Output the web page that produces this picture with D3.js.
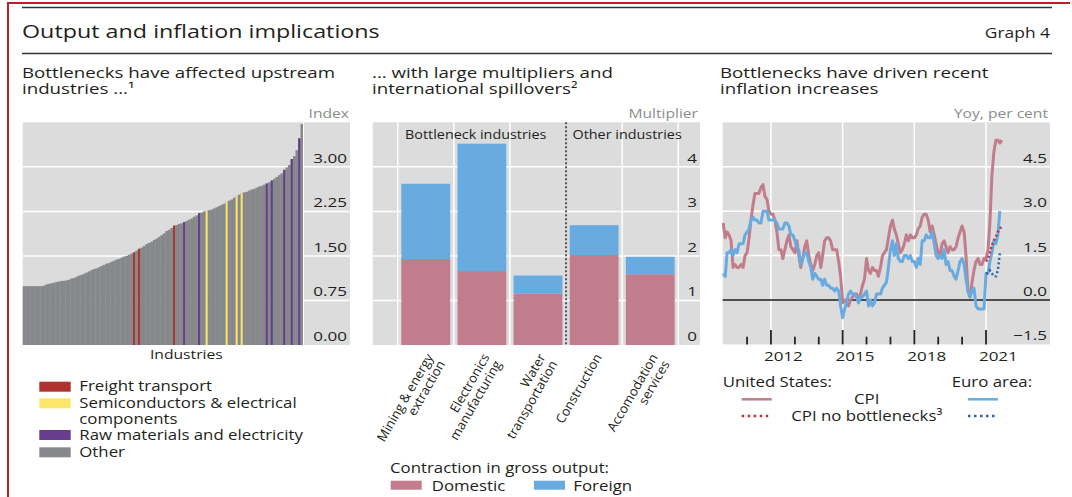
<!DOCTYPE html>
<html><head><meta charset="utf-8">
<script src="https://cdn.jsdelivr.net/npm/d3@7"></script>
<style>
body{margin:0;background:#fff;}
svg{display:block;font-family:"Open Sans","Noto Sans",sans-serif;}
</style></head><body>
<svg id="c" width="1072" height="497"></svg>
<script>
// ---------- DATA ----------
// Panel 1: upstreamness index of industries (sorted)
const industryIndex = [
 0.99,0.99,0.99,0.99,0.99,0.99,0.99,0.99,1.00,
 1.02,1.03,1.04,1.05,1.06,1.07,1.08,1.08,1.09,
 1.10,1.12,1.13,1.15,1.17,1.18,1.20,1.22,1.24,1.26,
 1.28,1.29,1.31,1.33,1.35,1.37,1.38,1.40,1.42,1.44,
 1.45,1.47,1.49,1.50,1.52,1.54,1.56,1.59,1.62,1.64,
 1.67,1.70,1.72,1.74,1.77,1.79,1.82,1.85,1.88,1.92,
 1.94,1.97,2.01,2.02,2.04,2.05,2.07,2.09,2.11,2.13,
 2.16,2.18,2.22,2.23,2.25,2.26,2.27,2.28,2.30,2.32,
 2.34,2.36,2.38,2.41,2.43,2.45,2.48,2.51,2.53,2.55,
 2.57,2.58,2.60,2.62,2.63,2.65,2.67,2.68,2.70,2.72,
 2.74,2.77,2.80,2.83,2.86,2.89,2.95,2.99,3.03,3.13,
 3.18,3.28,3.48,3.72
];
const freightIdx = [44, 46, 60];
const semiIdx = [73, 81, 85, 87];
const rawIdx = [64, 70, 97, 99, 104, 107, 110];
const industryTicks = [0, 0.75, 1.5, 2.25, 3];
const industryGroups = ["Freight transport", "Semiconductors & electrical|components", "Raw materials and electricity", "Other"];

// Panel 2: multipliers
const multCategories = ["Mining & energy|extraction", "Electronics|manufacturing", "Water|transportation", "Construction", "Accomodation|services"];
const domesticMult = [1.93, 1.66, 1.15, 2.02, 1.59];
const foreignMult = [1.69, 2.86, 0.41, 0.67, 0.39];
const multTicks = [0, 1, 2, 3, 4];

// Panel 3: inflation, monthly from Jan 2010
const usCPI = [
 2.6,2.1,2.3,2.2,2.0,1.1,1.2,1.1,1.1,1.2,1.1,1.5,
 1.6,2.1,2.7,3.2,3.6,3.6,3.6,3.8,3.9,3.5,3.4,3.0,
 2.9,2.9,2.7,2.3,1.7,1.7,1.4,1.7,2.0,2.2,1.8,1.7,
 1.6,2.0,1.5,1.1,1.4,1.8,2.0,1.5,1.2,1.0,1.2,1.5,
 1.6,1.1,1.5,2.0,2.1,2.1,2.0,1.7,1.7,1.7,1.3,0.8,
 -0.1,0.0,-0.1,-0.2,0.0,0.1,0.2,0.2,0.0,0.2,0.5,0.7,
 1.4,1.0,0.9,1.1,1.0,1.0,0.8,1.1,1.5,1.6,1.7,2.1,
 2.5,2.7,2.4,2.2,1.9,1.6,1.7,1.9,2.2,2.0,2.2,2.1,
 2.1,2.2,2.4,2.5,2.8,2.9,2.9,2.7,2.3,2.5,2.2,1.9,
 1.6,1.5,1.9,2.0,1.8,1.6,1.8,1.7,1.7,1.8,2.1,2.3,
 2.5,2.3,1.5,0.3,0.1,0.6,1.0,1.3,1.4,1.2,1.2,1.4,
 1.4,1.7,2.6,4.2,5.0,5.4,5.4,5.3,5.4
];
const euroCPI = [
 0.9,0.8,1.6,1.6,1.7,1.5,1.7,1.6,1.9,1.9,1.9,2.2,
 2.3,2.4,2.7,2.8,2.7,2.7,2.6,2.6,3.0,3.0,3.0,2.7,
 2.7,2.7,2.7,2.6,2.4,2.4,2.4,2.6,2.6,2.5,2.2,2.2,
 2.0,1.8,1.7,1.2,1.4,1.6,1.6,1.3,1.1,0.7,0.9,0.8,
 0.7,0.7,0.5,0.7,0.5,0.5,0.4,0.4,0.3,0.4,0.3,-0.2,
 -0.6,-0.3,-0.1,0.2,0.3,0.2,0.2,0.1,-0.1,0.1,0.1,0.2,
 0.3,-0.2,0.0,-0.2,-0.1,0.2,0.2,0.2,0.4,0.5,0.6,1.1,
 1.7,2.0,1.5,1.9,1.4,1.3,1.3,1.5,1.5,1.4,1.5,1.3,
 1.3,1.1,1.4,1.2,2.0,2.0,2.2,2.1,2.1,2.3,1.9,1.5,
 1.4,1.5,1.4,1.7,1.2,1.3,1.0,1.0,0.8,0.7,1.0,1.3,
 1.4,1.2,0.7,0.3,0.1,0.3,0.4,-0.2,-0.3,-0.3,-0.3,-0.3,
 0.9,0.9,1.3,1.6,2.0,1.9,2.2,3.0
];
const usNoBottleneck = [1.3,1.4,1.6,1.85,2.0,2.15,2.3,2.4,2.5];    // from Jan 2021
const euroNoBottleneck = [0.9,0.9,1.0,0.9,0.8,0.8,1.0,1.6];        // from Jan 2021
const inflTicks = [-1.5, 0, 1.5, 3, 4.5];
const yearLabels = [2012, 2015, 2018, 2021];

// ---------- STYLE ----------
const C = {
  bg: "#dcdcdc", grid: "#ffffff", text: "#231f20", unit: "#8c8c8c",
  other: "#86888b", freight: "#b0322f", semi: "#fbe56b", raw: "#673d8e",
  dom: "#c27d8c", frn: "#68abe0", usNB: "#c0333a", euNB: "#2f62b0",
  frame: "#b8202a"
};
const SX = {title:1.26, graph:1.2, sub:1.29, legend:1.16, unit:1.25, tick:1.26, inner:1.15};

const svg = d3.select("#c");
function txt(g, x, y, s, size, sx, anchor, fill){
  return g.append("text").attr("transform",`translate(${x},${y}) scale(${sx},1)`)
    .attr("text-anchor",anchor||"start").attr("font-size",size).attr("fill",fill||C.text).text(s);
}

// frame & header
svg.append("line").attr("x1",8).attr("x2",1070).attr("y1",3).attr("y2",3).attr("stroke",C.frame).attr("stroke-width",2);
svg.append("line").attr("x1",8).attr("x2",8).attr("y1",2).attr("y2",497).attr("stroke",C.frame).attr("stroke-width",2);
svg.append("line").attr("x1",22).attr("x2",1052).attr("y1",7.5).attr("y2",7.5).attr("stroke","#333").attr("stroke-width",1.3);
svg.append("line").attr("x1",22).attr("x2",1052).attr("y1",53.5).attr("y2",53.5).attr("stroke","#333").attr("stroke-width",1.3);
txt(svg, 22, 37.5, "Output and inflation implications", 18.5, SX.title);
txt(svg, 1050, 37.5, "Graph 4", 14.5, SX.graph, "end");

function subtitle(x, lines){
  lines.forEach((l,i)=>txt(svg, x, 78+i*15.5, l, 14.5, SX.sub));
}
subtitle(22, ["Bottlenecks have affected upstream", "industries ...\u00B9"]);
subtitle(372, ["... with large multipliers and", "international spillovers\u00B2"]);
subtitle(720, ["Bottlenecks have driven recent", "inflation increases"]);

function unitLabel(x, t){
  txt(svg, x, 118, t, 12.5, SX.unit, "end", C.unit);
}
function yLabels(g, scale, ticks, x, fmt){
  const ax = d3.axisRight(scale).tickValues(ticks).tickSize(0).tickPadding(0).tickFormat(fmt);
  const a = g.append("g").attr("transform",`translate(${x},0)`).call(ax);
  a.select(".domain").remove();
  a.selectAll("text").attr("text-anchor","end").attr("x",0).attr("dy",0).attr("y",-4.5)
    .attr("transform",`scale(${SX.tick},1)`).attr("font-size",13.5)
    .attr("font-family",'"Open Sans","Noto Sans",sans-serif').attr("fill",C.text);
  return a;
}

// ---------- PANEL 1 ----------
{
  const g = svg.append("g");
  const L=22.7, R=303, RR=350, T=122.3, B=345;
  const y = d3.scaleLinear().domain([0,3.75]).range([B,T]);
  const x = d3.scaleBand().domain(d3.range(industryIndex.length)).range([L,R]).padding(0);
  g.append("rect").attr("x",L).attr("y",T).attr("width",RR-L).attr("height",B-T).attr("fill",C.bg);
  g.selectAll(".gl").data(industryTicks.filter(d=>d>0)).join("line")
    .attr("x1",L).attr("x2",RR).attr("y1",d=>y(d)).attr("y2",d=>y(d)).attr("stroke",C.grid).attr("stroke-width",1.5);
  g.selectAll(".bar").data(industryIndex).join("rect")
    .attr("x",(d,i)=>x(i)).attr("width",x.bandwidth()+0.4).attr("y",d=>y(d)).attr("height",d=>B-y(d)).attr("fill",C.other);
  const hl = [].concat(freightIdx.map(i=>[i,C.freight]), semiIdx.map(i=>[i,C.semi]), rawIdx.map(i=>[i,C.raw]));
  g.selectAll(".hl").data(hl).join("rect")
    .attr("x",d=>x(d[0])+x.bandwidth()/2-1).attr("width",2).attr("y",d=>y(industryIndex[d[0]])).attr("height",d=>B-y(industryIndex[d[0]])).attr("fill",d=>d[1]);
  g.append("line").attr("x1",R+0.5).attr("x2",R+0.5).attr("y1",T).attr("y2",B).attr("stroke",C.grid).attr("stroke-width",1);
  yLabels(g, y, industryTicks, 347, d3.format(".2f"));
  unitLabel(349, "Index");
  txt(g, (L+RR)/2, 359, "Industries", 13.5, SX.legend, "middle");
  // legend
  const cols = [C.freight, C.semi, C.raw, C.other];
  const rows = [381.7, 398.3, 430, 447.3];
  industryGroups.forEach((name,i)=>{
    g.append("rect").attr("x",39.3).attr("y",rows[i]).attr("width",31.4).attr("height",10).attr("fill",cols[i]);
    name.split("|").forEach((t,j)=>txt(g, 79.3, rows[i]+9.5+j*16.3, t, 14.5, SX.legend));
  });
}

// ---------- PANEL 2 ----------
{
  const g = svg.append("g");
  const L=372.7, RR=700, T=122.3, B=345;
  const y = d3.scaleLinear().domain([0,5]).range([B,T]);
  const x = d3.scaleBand().domain(multCategories).range([397.7,678.3]).paddingInner(0.13).paddingOuter(0.065);
  const step = x.step();
  g.append("rect").attr("x",L).attr("y",T).attr("width",RR-L).attr("height",B-T).attr("fill",C.bg);
  g.selectAll(".gl").data(multTicks.filter(d=>d>0)).join("line")
    .attr("x1",L).attr("x2",RR).attr("y1",d=>y(d)).attr("y2",d=>y(d)).attr("stroke",C.grid).attr("stroke-width",1.5);
  const bounds = d3.range(multCategories.length+1).filter(i=>i!==3).map(i=>397.7+i*step);
  g.selectAll(".vl").data(bounds).join("line")
    .attr("x1",d=>d).attr("x2",d=>d).attr("y1",T).attr("y2",B).attr("stroke",C.grid).attr("stroke-width",1.5);
  g.selectAll(".dom").data(multCategories).join("rect")
    .attr("x",d=>x(d)).attr("width",x.bandwidth()).attr("y",(d,i)=>y(domesticMult[i])).attr("height",(d,i)=>B-y(domesticMult[i])).attr("fill",C.dom);
  g.selectAll(".frn").data(multCategories).join("rect")
    .attr("x",d=>x(d)).attr("width",x.bandwidth()).attr("y",(d,i)=>y(domesticMult[i]+foreignMult[i])).attr("height",(d,i)=>y(domesticMult[i])-y(domesticMult[i]+foreignMult[i])).attr("fill",C.frn);
  const sep = 397.7+3*step;
  g.append("line").attr("x1",sep).attr("x2",sep).attr("y1",T).attr("y2",B).attr("stroke","#555").attr("stroke-width",2).attr("stroke-dasharray","2,2");
  txt(g, 405, 138.5, "Bottleneck industries", 12.5, SX.inner);
  txt(g, 572.5, 138.5, "Other industries", 12.5, SX.inner);
  yLabels(g, y, multTicks, 697, d3.format("d"));
  unitLabel(698, "Multiplier");
  // category labels
  multCategories.forEach(c=>{
    const cx = x(c)+x.bandwidth()/2;
    const t = g.append("text").attr("transform",`translate(${cx+8},357) rotate(-60)`).attr("text-anchor","end").attr("font-size",13).attr("fill",C.text);
    c.split("|").forEach((l,j)=>t.append("tspan").attr("x",0).attr("dy", j===0?0:"1.05em").text(l));
  });
  // legend
  txt(g, 390, 473, "Contraction in gross output:", 14.5, SX.legend);
  [["Domestic",C.dom,390.7,431.7],["Foreign",C.frn,534,573.3]].forEach(d=>{
    g.append("rect").attr("x",d[2]).attr("y",480.7).attr("width",31).attr("height",9).attr("fill",d[1]);
    txt(g, d[3], 490.5, d[0], 14.5, SX.legend);
  });
}

// ---------- PANEL 3 ----------
{
  const g = svg.append("g");
  const L=722.7, RR=1050, T=122.4, B=344.4;
  const y = d3.scaleLinear().domain([-1.5,6]).range([B,T]);
  const x = d3.scaleTime().domain([new Date(2010,0,1), new Date(2022,0,1)]).range([723.2, 1009.9]);
  const mdate = i => new Date(2010, i, 1);
  g.append("rect").attr("x",L).attr("y",T).attr("width",RR-L).attr("height",B-T).attr("fill",C.bg);
  g.selectAll(".gl").data(inflTicks.filter(d=>d>0)).join("line")
    .attr("x1",L).attr("x2",RR).attr("y1",d=>y(d)).attr("y2",d=>y(d)).attr("stroke",C.grid).attr("stroke-width",1.5);
  g.selectAll(".vl").data(yearLabels).join("line")
    .attr("x1",d=>x(new Date(d,0,1))).attr("x2",d=>x(new Date(d,0,1))).attr("y1",T).attr("y2",B).attr("stroke",C.grid).attr("stroke-width",1.5);
  g.append("line").attr("x1",L).attr("x2",RR).attr("y1",y(0)).attr("y2",y(0)).attr("stroke","#4d4d4d").attr("stroke-width",2);
  // ticks
  const years = d3.range(2011, 2022);
  g.selectAll(".tk").data(years).join("line")
    .attr("x1",d=>x(new Date(d,0,1))).attr("x2",d=>x(new Date(d,0,1)))
    .attr("y1",d=>yearLabels.includes(d)?330:336.7).attr("y2",B).attr("stroke","#222").attr("stroke-width",1.8);
  const xa = d3.axisBottom(x).tickValues(yearLabels.map(d=>new Date(d,6,1))).tickSize(0).tickPadding(0).tickFormat(d3.timeFormat("%Y"));
  const xg = g.append("g").attr("transform",`translate(0,${B})`).call(xa);
  xg.select(".domain").remove();
  xg.selectAll("text").attr("dy",0).attr("y",0).attr("transform",`translate(0,17) scale(${SX.tick},1)`)
    .attr("font-size",13.5).attr("font-family",'"Open Sans","Noto Sans",sans-serif').attr("fill",C.text);

  const line = d3.line().x((d,i)=>x(mdate(i))).y(d=>y(d));
  const line21 = d3.line().x((d,i)=>x(mdate(132+i))).y(d=>y(d));
  g.append("path").attr("d",line(usCPI)).attr("fill","none").attr("stroke",C.dom).attr("stroke-width",3).attr("stroke-linejoin","round");
  g.append("path").attr("d",line(euroCPI)).attr("fill","none").attr("stroke",C.frn).attr("stroke-width",3).attr("stroke-linejoin","round");
  g.append("path").attr("d",line21(usNoBottleneck)).attr("fill","none").attr("stroke",C.usNB).attr("stroke-width",2.5).attr("stroke-dasharray","2,2.5");
  g.append("path").attr("d",line21(euroNoBottleneck)).attr("fill","none").attr("stroke",C.euNB).attr("stroke-width",2.5).attr("stroke-dasharray","2,2.5");

  const ya = yLabels(g, y, inflTicks, 1047, d3.format(".1f"));
  ya.selectAll("text").filter(d=>d===-1.5).text("\u22121.5");
  unitLabel(1048, "Yoy, per cent");

  // legend
  txt(g, 722.7, 386.5, "United States:", 14.5, SX.legend);
  txt(g, 951.7, 386.5, "Euro area:", 14.5, SX.legend);
  g.append("line").attr("x1",741.7).attr("x2",771.7).attr("y1",399.3).attr("y2",399.3).attr("stroke",C.dom).attr("stroke-width",2.5);
  g.append("line").attr("x1",968).attr("x2",998).attr("y1",399.3).attr("y2",399.3).attr("stroke",C.frn).attr("stroke-width",2.5);
  g.append("line").attr("x1",741.7).attr("x2",771.7).attr("y1",416).attr("y2",416).attr("stroke",C.usNB).attr("stroke-width",2.5).attr("stroke-dasharray","2.5,3.5");
  g.append("line").attr("x1",968).attr("x2",998).attr("y1",416).attr("y2",416).attr("stroke",C.euNB).attr("stroke-width",2.5).attr("stroke-dasharray","2.5,3.5");
  txt(g, 866.7, 404, "CPI", 14.5, SX.legend, "middle");
  txt(g, 866.7, 421, "CPI no bottlenecks\u00B3", 14.5, SX.legend, "middle");
}
</script>
</body></html>
